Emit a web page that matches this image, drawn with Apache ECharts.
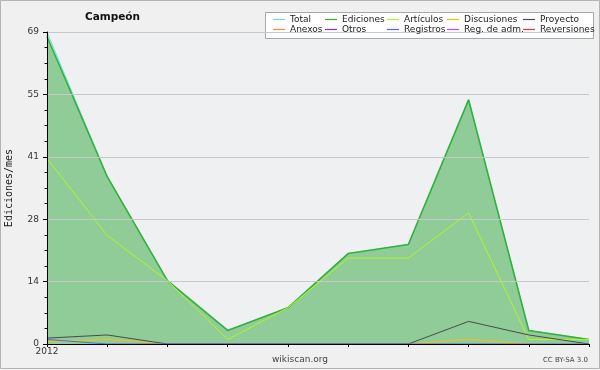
<!DOCTYPE html>
<html>
<head>
<meta charset="utf-8">
<script src="https://cdn.jsdelivr.net/npm/echarts@6/dist/echarts.min.js"></script>
<style>html,body{margin:0;padding:0;background:#f0f0f0;}#c{width:600px;height:370px;}</style>
</head>
<body>
<div id="c"></div>
<script>
const months = ['2012-01','2012-02','2012-03','2012-04','2012-05','2012-06','2012-07','2012-08','2012-09','2012-10'];
const total       = [69, 37, 14, 3, 8, 20, 22, 54, 3, 1];
const ediciones   = [68, 37, 14, 3, 8, 20, 22, 54, 3, 1];
const articulos   = [41, 24, 14, 1, 8, 19, 19, 29, 1, 1];
const discusiones = [0.5, 1, 0, 0, 0, 0, 0, 1, 0, 0];
const proyecto    = [1.3, 2, 0, 0, 0, 0, 0, 5, 2, 0];
const anexos      = [];
const otros       = [];
const registros   = [1, 0, 0, 0, 0, 0, 0, 0, 0, 0];
const regAdm      = [];
const reversiones = [];
const yMax = 69;

const names = ['Total','Ediciones','Artículos','Discusiones','Proyecto','Anexos','Otros','Registros','Reg. de adm.','Reversiones'];
const colors = ['#6fdcdc','#33b03c','#b4f520','#f5c400','#4a4a4a','#ff8a33','#8a2be2','#5560ff','#e040e0','#ff3030'];
const datas = [total, ediciones, articulos, discusiones, proyecto, anexos, otros, registros, regAdm, reversiones];

const series = names.map((n, i) => {
  const s = {
    name: n, type: 'line', data: datas[i], symbol: 'none',
    lineStyle: { color: colors[i], width: i === 1 ? 1.6 : 1 },
    itemStyle: { color: colors[i] },
    emphasis: { disabled: true }, z: 3
  };
  if (i === 1) s.areaStyle = { color: 'rgb(50,168,60)', opacity: 0.5 };
  if (i <= 1) s.z = 2;
  return s;
});

const colLefts = [268, 320, 382, 442, 518];
const legends = colLefts.map((l, c) => ({
  left: l, top: 10, orient: 'vertical', itemGap: 1,
  data: [names[c], names[c + 5]],
  icon: 'rect', itemWidth: 12, itemHeight: 1.2,
  itemStyle: { borderWidth: 0 },
  textStyle: { fontFamily: 'DejaVu Sans', fontSize: 9, color: '#222', lineHeight: 9 },
  selectedMode: false, z: 10
}));

const chart = echarts.init(document.getElementById('c'), null, { renderer: 'canvas' });
chart.setOption({
  animation: false,
  backgroundColor: '#f0f0f0',
  title: {
    text: 'Campeón', left: 80, top: 7,
    textStyle: { fontFamily: 'DejaVu Sans', fontWeight: 'bold', fontSize: 10.5, color: '#111' }
  },
  legend: legends,
  grid: { left: 47, right: 11, top: 32, bottom: 26, show: true, backgroundColor: '#eef0f2', borderWidth: 0,
          containLabel: false, outerBoundsMode: 'none' },
  xAxis: {
    type: 'category', data: months, boundaryGap: false, z: 10,
    axisLine: { lineStyle: { color: '#000', width: 1 } },
    axisTick: { show: true, length: 3, alignWithLabel: true, lineStyle: { color: '#000' } },
    axisLabel: {
      interval: 0, margin: 3, fontFamily: 'DejaVu Sans', fontSize: 9, color: '#333',
      formatter: (v, i) => i === 0 ? '2012' : ''
    },
    splitLine: { show: false }
  },
  yAxis: {
    type: 'value', min: 0, max: yMax, interval: yMax / 5, z: 10,
    name: 'Ediciones/mes', nameLocation: 'middle', nameGap: 33,
    nameTextStyle: { fontFamily: 'DejaVu Sans Mono', fontSize: 10, color: '#222' },
    axisLine: { show: true, lineStyle: { color: '#000', width: 1 } },
    axisTick: { show: true, length: 4, lineStyle: { color: '#000' } },
    minorTick: { show: true, splitNumber: 4, length: 2.5, lineStyle: { color: '#000' } },
    axisLabel: { margin: 8, fontFamily: 'DejaVu Sans', fontSize: 9, color: '#333', formatter: v => Math.round(v) },
    splitLine: { show: true, lineStyle: { color: '#c8c8c8', width: 1 } }
  },
  graphic: [
    { type: 'rect', z: 8, shape: { x: 265.5, y: 12.5, width: 328, height: 26 },
      style: { fill: '#ffffff', stroke: '#a8a8a8', lineWidth: 1 } },
    { type: 'text', z: 10, left: 'center', top: 355, style: { text: 'wikiscan.org', fontFamily: 'DejaVu Sans', fontSize: 9, fill: '#444' } },
    { type: 'text', z: 10, right: 12, top: 357, style: { text: 'CC BY-SA 3.0', fontFamily: 'DejaVu Sans', fontSize: 7, fill: '#444' } },
    { type: 'rect', z: 20, shape: { x: 0.5, y: 0.5, width: 599, height: 368 },
      style: { fill: 'none', stroke: '#b4b4b4', lineWidth: 1 } }
  ],
  series: series
});
</script>
</body>
</html>
